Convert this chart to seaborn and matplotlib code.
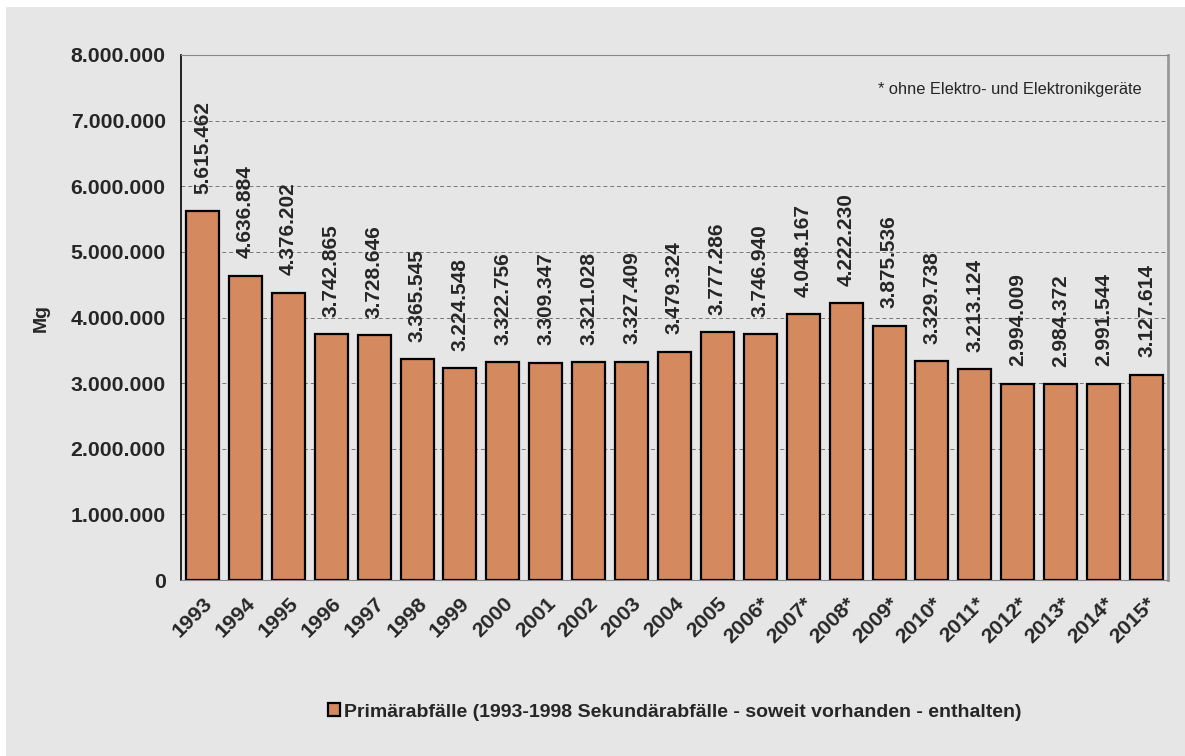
import numpy as np
import pandas as pd
import matplotlib
matplotlib.use('Agg')
import matplotlib.pyplot as plt
from matplotlib.patches import Rectangle
from matplotlib.ticker import FixedLocator, FuncFormatter
import seaborn as sns

# ─────────────────────────────────────────────
# DATA
# ─────────────────────────────────────────────
years = ['1993', '1994', '1995', '1996', '1997', '1998', '1999', '2000',
         '2001', '2002', '2003', '2004', '2005', '2006*', '2007*', '2008*',
         '2009*', '2010*', '2011*', '2012*', '2013*', '2014*', '2015*']
values = [5615462, 4636884, 4376202, 3742865, 3728646, 3365545, 3224548,
          3322756, 3309347, 3321028, 3327409, 3479324, 3777286, 3746940,
          4048167, 4222230, 3875536, 3329738, 3213124, 2994009, 2984372,
          2991544, 3127614]
series_label = 'Primärabfälle (1993-1998 Sekundärabfälle - soweit vorhanden - enthalten)'
note = '* ohne Elektro- und Elektronikgeräte'

df = pd.DataFrame({'Jahr': years, 'Mg': values})

BG = '#E6E6E6'
BAR = '#D4895F'

sns.set_style('white')
plt.rcParams['font.family'] = ['Liberation Sans', 'DejaVu Sans']

fig = plt.figure(figsize=(11.85, 7.56), dpi=100, facecolor='white')
fig.patches.append(Rectangle((6 / 1185, 0), 1, 1 - 7 / 756, transform=fig.transFigure,
                             facecolor=BG, edgecolor='none', zorder=-10))
ax = fig.add_axes([181 / 1185, 1 - 580 / 756, (1168 - 181) / 1185, (580 - 55) / 756])
ax.set_facecolor(BG)

sns.barplot(data=df, x='Jahr', y='Mg', color=BAR, width=0.77, edgecolor='black',
            linewidth=1.6, saturation=1, label=series_label, ax=ax, zorder=3)

# value labels
de_fmt = lambda v: f'{int(v):,}'.replace(',', '.')
for c in ax.containers:
    ax.bar_label(c, labels=[de_fmt(v) for v in values], rotation=90, padding=12.5,
                 fontsize=15, fontweight='bold')

# y axis
ax.set_ylim(0, 8000000)
ax.yaxis.set_major_locator(FixedLocator(np.arange(0, 8000001, 1000000)))
ax.yaxis.set_major_formatter(FuncFormatter(lambda v, p: de_fmt(v)))
ax.set_ylabel('Mg', fontsize=14, fontweight='bold')
ax.yaxis.set_label_coords(-0.133, 0.5)
for y in range(1000000, 8000000, 1000000):
    ax.axhline(y, color='#777777', linestyle=(0, (4, 3)), linewidth=0.7, zorder=1)

# x axis
ax.set_xlim(-0.5, len(years) - 0.5)
ax.set_xlabel('')
ax.set_xticks(range(len(years)))
ax.set_xticklabels(years, rotation=45, ha='right', rotation_mode='anchor')
ax.xaxis.set_minor_locator(FixedLocator(np.arange(-0.5, len(years), 1)))
ax.tick_params(axis='x', which='major', length=0, pad=10)
ax.tick_params(axis='x', which='minor', length=5, color='#888888', width=0.8)
ax.tick_params(axis='y', length=5, color='#888888', width=0.8, pad=6)
for lab in ax.get_xticklabels() + ax.get_yticklabels():
    lab.set_fontsize(15.3)
    lab.set_fontweight('bold')

# spines
ax.spines['left'].set_color('black')
ax.spines['left'].set_linewidth(1.2)
ax.spines['bottom'].set_color('#888888')
ax.spines['top'].set_color('#888888')
ax.spines['right'].set_color('#999999')
ax.spines['right'].set_linewidth(2)

# note
ax.text(0.973, 0.935, note, transform=ax.transAxes, ha='right', va='center', fontsize=11.8)

# legend
ax.legend(loc='center', bbox_to_anchor=(0.5, (712 - 580) / -(580 - 55)),
          frameon=False, handlelength=0.6, handleheight=0.6, handletextpad=0.2,
          prop={'weight': 'bold', 'size': 14})

plt.savefig('out.png', dpi=100, facecolor=fig.get_facecolor())
plt.close()
